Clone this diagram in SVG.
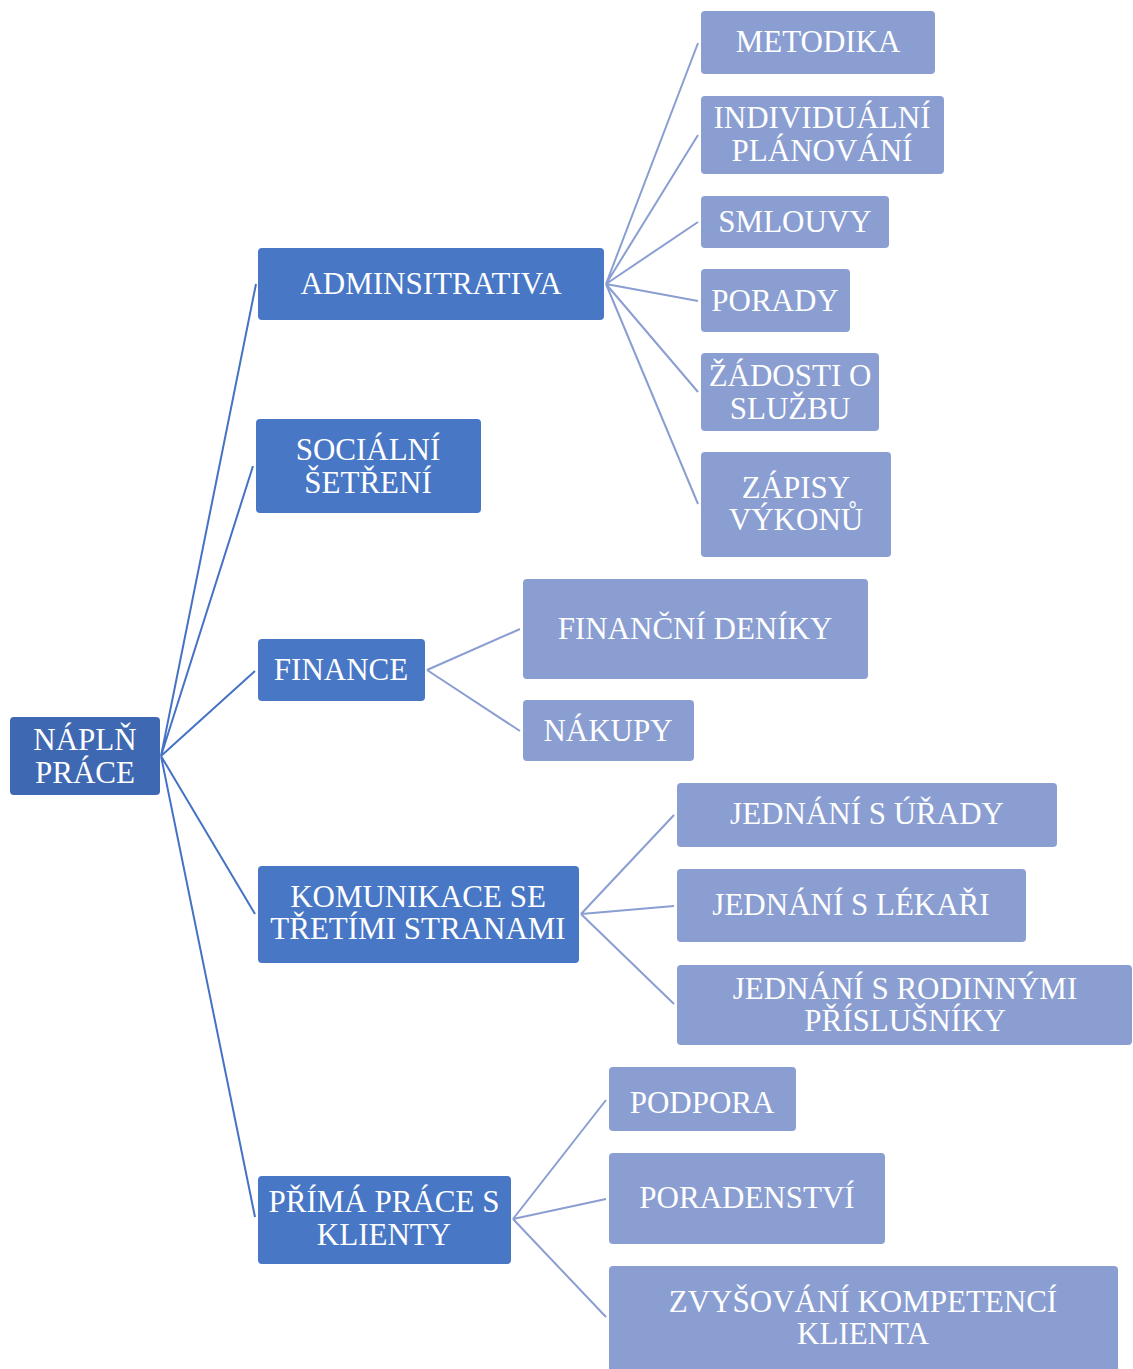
<svg xmlns="http://www.w3.org/2000/svg" width="1133" height="1369" viewBox="0 0 1133 1369">
<style>
.root{fill:#3F68B2}
.l1{fill:#4877C6}
.l2{fill:#8A9ED2}
text{font-family:"Liberation Serif","Times New Roman",serif;font-size:31px;fill:#fff;text-anchor:middle}
.c1{stroke:#4472C4;stroke-width:2;fill:none}
.c2{stroke:#8A9ED2;stroke-width:2;fill:none}
</style>
<rect width="1133" height="1369" fill="#fff"/>
<g id="connectors">
<path class="c1" d="M161,756 L256,284 M161,756 L253,466 M161,756 L255,671 M161,756 L255,914 M161,756 L255,1217"/>
<path class="c2" d="M606,284 L698,43 M606,284 L698,135 M606,284 L698,222 M606,284 L698,301 M606,284 L698,392 M606,284 L698,504"/>
<path class="c2" d="M427,670 L520,629 M427,670 L520,731"/>
<path class="c2" d="M581,914 L674,815 M581,914 L674,906 M581,914 L674,1004"/>
<path class="c2" d="M513,1219 L606,1100 M513,1219 L606,1199 M513,1219 L606,1317"/>
</g>
<g id="root"><rect class="root" x="10" y="717" width="150" height="78" rx="4"/><text x="85" y="750">NÁPLŇ</text><text x="85" y="783">PRÁCE</text></g>
<g id="administrativa"><rect class="l1" x="258" y="248" width="346" height="72" rx="4"/><text x="431" y="294">ADMINSITRATIVA</text></g>
<g id="socialni"><rect class="l1" x="256" y="419" width="225" height="94" rx="4"/><text x="368" y="460">SOCIÁLNÍ</text><text x="368" y="493">ŠETŘENÍ</text></g>
<g id="finance"><rect class="l1" x="258" y="639" width="167" height="62" rx="4"/><text x="341" y="680">FINANCE</text></g>
<g id="komunikace"><rect class="l1" x="258" y="866" width="321" height="97" rx="4"/><text x="418" y="907">KOMUNIKACE SE</text><text x="418" y="939">TŘETÍMI STRANAMI</text></g>
<g id="prima"><rect class="l1" x="258" y="1176" width="253" height="88" rx="4"/><text x="384" y="1212">PŘÍMÁ PRÁCE S</text><text x="384" y="1245">KLIENTY</text></g>
<g id="metodika"><rect class="l2" x="701" y="11" width="234" height="63" rx="4"/><text x="818" y="52">METODIKA</text></g>
<g id="individualni"><rect class="l2" x="701" y="96" width="243" height="78" rx="4"/><text x="822" y="128">INDIVIDUÁLNÍ</text><text x="822" y="161">PLÁNOVÁNÍ</text></g>
<g id="smlouvy"><rect class="l2" x="701" y="196" width="188" height="52" rx="4"/><text x="795" y="232">SMLOUVY</text></g>
<g id="porady"><rect class="l2" x="701" y="269" width="149" height="63" rx="4"/><text x="775" y="311">PORADY</text></g>
<g id="zadosti"><rect class="l2" x="701" y="353" width="178" height="78" rx="4"/><text x="790" y="386">ŽÁDOSTI O</text><text x="790" y="419">SLUŽBU</text></g>
<g id="zapisy"><rect class="l2" x="701" y="452" width="190" height="105" rx="4"/><text x="796" y="498">ZÁPISY</text><text x="796" y="530">VÝKONŮ</text></g>
<g id="financni-deniky"><rect class="l2" x="523" y="579" width="345" height="100" rx="4"/><text x="695" y="639">FINANČNÍ DENÍKY</text></g>
<g id="nakupy"><rect class="l2" x="523" y="700" width="171" height="61" rx="4"/><text x="608" y="741">NÁKUPY</text></g>
<g id="urady"><rect class="l2" x="677" y="783" width="380" height="64" rx="4"/><text x="867" y="824">JEDNÁNÍ S ÚŘADY</text></g>
<g id="lekari"><rect class="l2" x="677" y="869" width="349" height="73" rx="4"/><text x="851" y="915">JEDNÁNÍ S LÉKAŘI</text></g>
<g id="rodinni"><rect class="l2" x="677" y="965" width="455" height="80" rx="4"/><text x="905" y="999">JEDNÁNÍ S RODINNÝMI</text><text x="905" y="1031">PŘÍSLUŠNÍKY</text></g>
<g id="podpora"><rect class="l2" x="609" y="1067" width="187" height="64" rx="4"/><text x="702" y="1113">PODPORA</text></g>
<g id="poradenstvi"><rect class="l2" x="609" y="1153" width="276" height="91" rx="4"/><text x="747" y="1208">PORADENSTVÍ</text></g>
<g id="kompetence"><rect class="l2" x="609" y="1266" width="509" height="108" rx="4"/><text x="863" y="1312">ZVYŠOVÁNÍ KOMPETENCÍ</text><text x="863" y="1344">KLIENTA</text></g>
</svg>
